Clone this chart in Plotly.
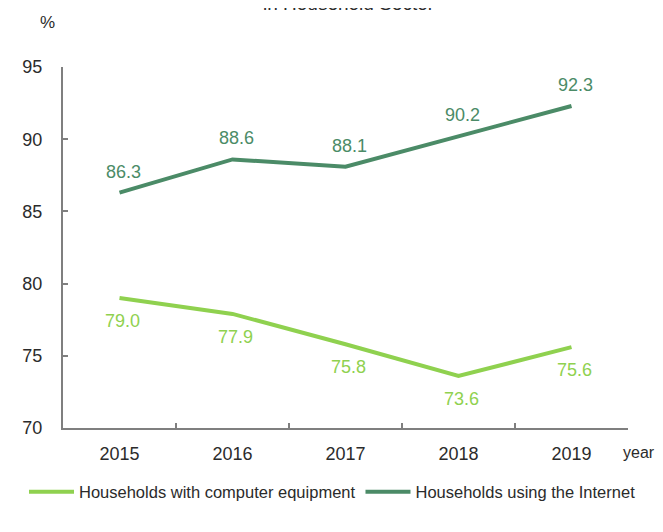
import plotly.graph_objects as go

years = ["2015", "2016", "2017", "2018", "2019"]
computer = [79.0, 77.9, 75.8, 73.6, 75.6]
internet = [86.3, 88.6, 88.1, 90.2, 92.3]
y_ticks = [70, 75, 80, 85, 90, 95]

name_computer = "Households with computer equipment"
name_internet = "Households using the Internet"
c_light = "#8fd14f"
c_dark = "#4b8b67"
TXT = "#2b2b2b"
FONT = "Liberation Sans, Arial, sans-serif"

W, H = 647, 516
L, R, T, B = 55, 27, 59, 96
PW, PH = W - L - R, H - T - B

fig = go.Figure()
fig.add_trace(go.Scatter(x=years, y=computer, mode="lines", name=name_computer,
                         line=dict(color=c_light, width=4)))
fig.add_trace(go.Scatter(x=years, y=internet, mode="lines", name=name_internet,
                         line=dict(color=c_dark, width=4)))

ann = []
for i, v in enumerate(internet):
    ann.append(dict(x=i, y=v, xref="x", yref="y", text=f"{v:.1f}", showarrow=False,
                    yshift=21, xshift=4, font=dict(size=18, color=c_dark, family=FONT)))
for i, v in enumerate(computer):
    ann.append(dict(x=i, y=v, xref="x", yref="y", text=f"{v:.1f}", showarrow=False,
                    yshift=-23, xshift=3, font=dict(size=18, color=c_light, family=FONT)))
# title (cut off at the top in the reference)
ann.append(dict(xref="paper", yref="paper", x=(341 - L) / PW, y=(T + PH - 8) / PH,
                text="in Household Sector", showarrow=False, yanchor="bottom",
                font=dict(size=19, color=TXT, family=FONT)))
ann.append(dict(xref="paper", yref="paper", x=(613 - L) / PW, y=(T + PH - 444) / PH, text="year",
                showarrow=False, xanchor="left", yanchor="middle",
                font=dict(size=16, color=TXT, family=FONT)))
ann.append(dict(xref="paper", yref="paper", x=(39 - L) / PW, y=(T + PH - 14) / PH, text="%",
                showarrow=False, xanchor="center", yanchor="middle",
                font=dict(size=17, color=TXT, family=FONT)))

fig.update_layout(
    width=W, height=H,
    margin=dict(l=L, r=R, t=T, b=B, autoexpand=False),
    paper_bgcolor="white", plot_bgcolor="white",
    font=dict(family=FONT, size=18, color=TXT),
    showlegend=True,
    legend=dict(orientation="h", xref="paper", yref="paper",
                x=(16 - L) / PW, xanchor="left", y=(T + PH - 484) / PH, yanchor="middle",
                font=dict(size=16.5, color=TXT, family=FONT), itemwidth=45,
                tracegroupgap=0, bgcolor="rgba(0,0,0,0)", borderwidth=0),
    annotations=ann,
)
fig.update_xaxes(type="category", range=[-0.5, 4.5], showline=True, linecolor="#7f7f7f",
                 linewidth=2, ticks="inside", tickson="boundaries", ticklen=5,
                 tickcolor="#7f7f7f", tickwidth=2, showgrid=False, zeroline=False,
                 ticklabelstandoff=8,
                 tickfont=dict(size=18, color=TXT, family=FONT))
fig.update_yaxes(range=[70, 95], tickvals=y_ticks, showline=True, linecolor="#7f7f7f",
                 linewidth=2, ticks="inside", ticklen=5, tickcolor="#7f7f7f", tickwidth=2,
                 showgrid=False, zeroline=False, ticklabelstandoff=15,
                 tickfont=dict(size=18, color=TXT, family=FONT))

fig.write_html("out.html")
